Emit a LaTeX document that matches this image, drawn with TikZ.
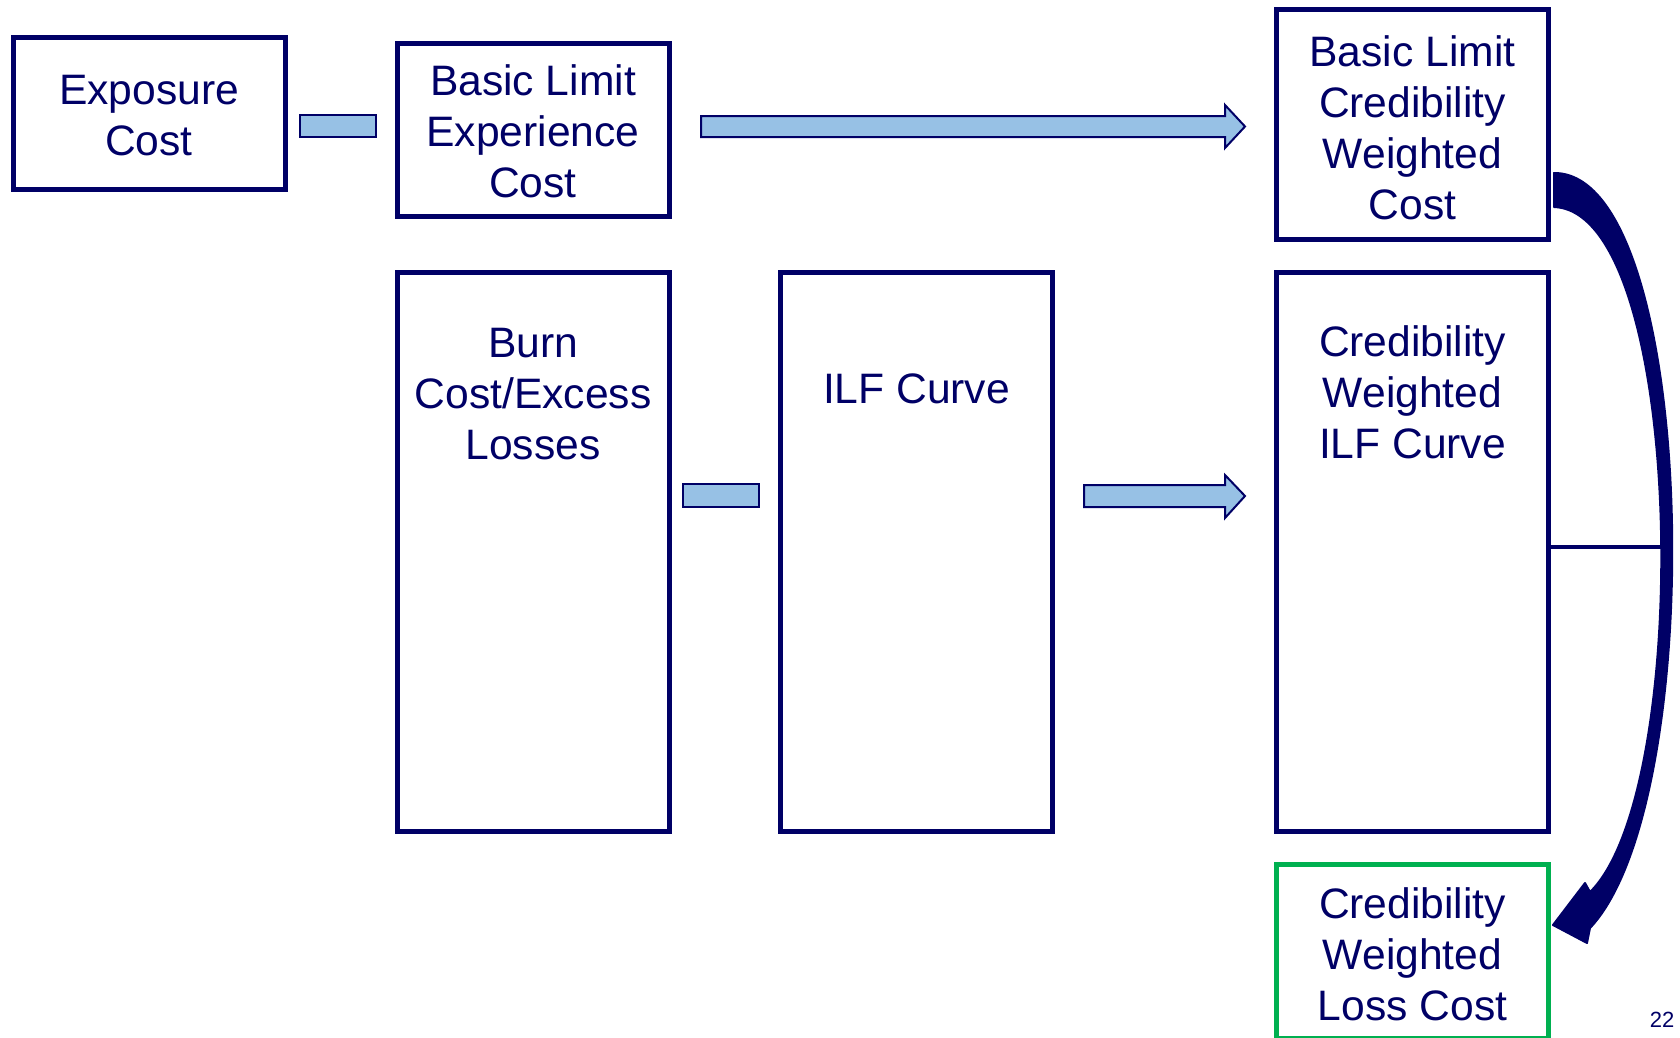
\documentclass[tikz,border=0pt]{standalone}
\usepackage{fontspec}
\setmainfont{Liberation Sans}
\definecolor{navy}{HTML}{000066}
\definecolor{lblue}{HTML}{97C1E5}
\definecolor{cgreen}{HTML}{00B050}
\begin{document}
\begin{tikzpicture}[x=1pt,y=-1pt,
  box/.style={draw=navy, line width=5pt, rectangle, inner sep=0pt},
  gbox/.style={draw=cgreen, line width=5pt, rectangle, inner sep=0pt},
  lbl/.style={text=navy, font=\fontsize{42.6}{51}\selectfont, align=center, inner sep=0pt},
  bar/.style={draw=navy, line width=2pt, fill=lblue, rectangle, inner sep=0pt},
  blockarrow/.style={draw=navy, line width=2pt, fill=lblue, line join=miter}]
\useasboundingbox (0,0) rectangle (1680,1037);

% boxes
\node[box, minimum width=272pt, minimum height=152pt] (ec) at (149,113.5) {};
\node[box, minimum width=272pt, minimum height=173pt] (blec) at (533,129.5) {};
\node[box, minimum width=272pt, minimum height=230pt] (blcwc) at (1412.5,124.5) {};
\node[box, minimum width=272pt, minimum height=559pt] (burn) at (533,551.5) {};
\node[box, minimum width=272pt, minimum height=559pt] (ilf) at (916.5,551.5) {};
\node[box, minimum width=272pt, minimum height=559pt] (cwilf) at (1412.5,551.5) {};
\node[gbox, minimum width=272pt, minimum height=174pt] (cwlc) at (1412.5,951.5) {};

% labels
\node[lbl] (tec) at (149,116) {Exposure\\Cost};
\node[lbl] (tblec) at (533,131) {Basic Limit\\Experience\\Cost};
\node[lbl] (tblcwc) at (1412.5,127.5) {Basic Limit\\Credibility\\Weighted\\Cost};
\node[lbl] (tburn) at (533,394) {Burn\\Cost/Excess\\Losses};
\node[lbl] (tilf) at (916.5,389) {ILF Curve};
\node[lbl] (tcwilf) at (1412.5,392) {Credibility\\Weighted\\ILF Curve};
\node[lbl] (tcwlc) at (1412.5,954) {Credibility\\Weighted\\Loss Cost};
\node[text=navy, font=\fontsize{22}{26}\selectfont, inner sep=0pt] (pg) at (1662,1020) {22};

% small bars
\node[bar, minimum width=76pt, minimum height=22pt] (bar1) at (338,126) {};
\node[bar, minimum width=76pt, minimum height=23pt] (bar2) at (721,495.5) {};

% block arrows
\draw[blockarrow] (701,116) -- (1225,116) -- (1225,105) -- (1245,126.5) -- (1225,148) -- (1225,137) -- (701,137) -- cycle;
\draw[blockarrow] (1084,485) -- (1225,485) -- (1225,475) -- (1245,496) -- (1225,518) -- (1225,507) -- (1084,507) -- cycle;

% connector line from credibility-weighted ILF curve box
\coordinate (hend) at (1668,547);
\draw[navy, line width=4.5pt] (cwilf.east |- hend) -- (hend);

% curved arrow
\fill[navy, draw=navy, line width=2pt, line join=round]
  (1554,173) .. controls (1698,172) and (1711,800) .. (1590,928)
  -- (1587,943) -- (1553,925) -- (1585,883) -- (1590,892)
  .. controls (1694,790) and (1686,212) .. (1554,207) -- cycle;
\end{tikzpicture}
\end{document}
